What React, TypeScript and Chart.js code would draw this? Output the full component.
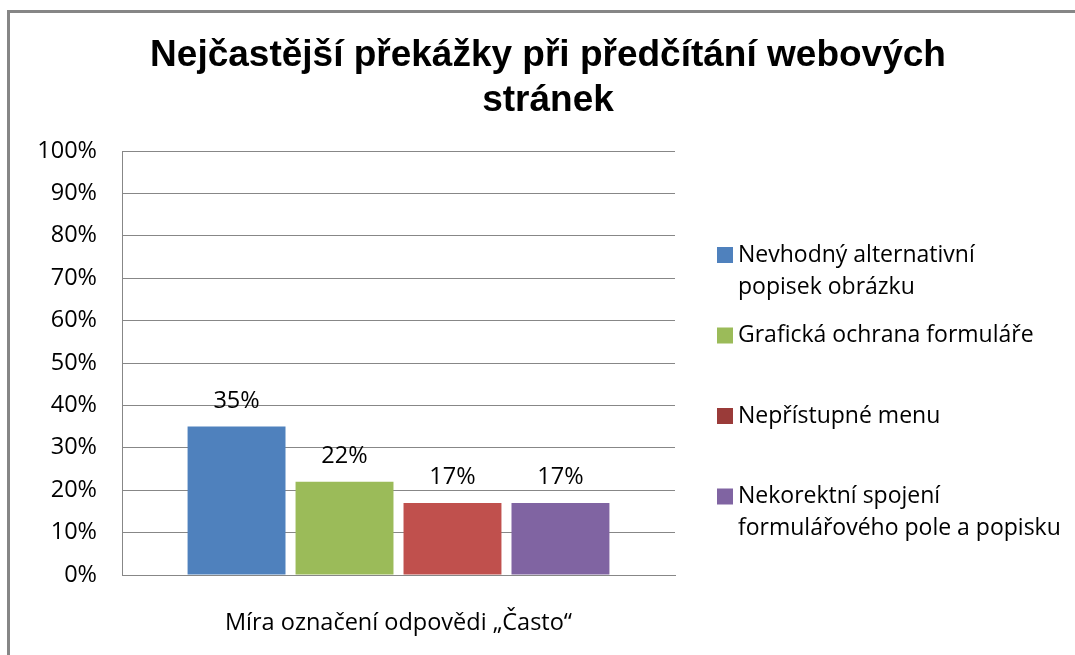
import React, { useEffect, useRef } from "react";
import { Chart, registerables } from "chart.js";

Chart.register(...registerables);

const titleLines = ["Nejčastější překážky při předčítání webových", "stránek"];
const categories = ["Míra označení odpovědi „Často“"];
const seriesNames = [
  ["Nevhodný alternativní", "popisek obrázku"],
  ["Grafická ochrana formuláře"],
  ["Nepřístupné menu"],
  ["Nekorektní spojení", "formulářového pole a popisku"],
];
const seriesValues = [35, 22, 17, 17];
const seriesColors = ["#4F81BD", "#9BBB59", "#C0504D", "#8064A2"];
const legendColors = ["#4F81BD", "#9BBB59", "#9A3B39", "#8064A2"];
const yMin = 0;
const yMax = 100;
const yStep = 10;

const FONT = "'Open Sans', 'DejaVu Sans', sans-serif";
const TEXT_SIZE = 23.5;
const LEGEND_SIZE = 23;
const GRID = "#878787";

const framePlugin = {
  id: "frame",
  beforeDraw(chart: any) {
    const ctx = chart.ctx;
    ctx.save();
    ctx.fillStyle = "#ffffff";
    ctx.fillRect(0, 0, chart.width, chart.height);
    ctx.fillStyle = "#868686";
    ctx.fillRect(7, 10, 3, chart.height - 10);
    ctx.fillRect(7, 10, chart.width - 7, 3);
    ctx.restore();
  },
};

const titlePlugin = {
  id: "customTitle",
  afterDraw(chart: any) {
    const ctx = chart.ctx;
    ctx.save();
    ctx.fillStyle = "#000";
    ctx.font = "bold 37px 'Liberation Sans', Arial, sans-serif";
    ctx.textAlign = "center";
    ctx.textBaseline = "alphabetic";
    titleLines.forEach((line, i) => {
      ctx.fillText(line, 548, 66 + i * 45);
    });
    ctx.restore();
  },
};

const valueLabelPlugin = {
  id: "valueLabels",
  afterDatasetsDraw(chart: any) {
    const ctx = chart.ctx;
    ctx.save();
    ctx.fillStyle = "#000";
    ctx.font = `${TEXT_SIZE}px ${FONT}`;
    ctx.textAlign = "center";
    ctx.textBaseline = "alphabetic";
    chart.data.datasets.forEach((ds: any, i: number) => {
      const meta = chart.getDatasetMeta(i);
      meta.data.forEach((bar: any, j: number) => {
        ctx.fillText(`${ds.data[j]}%`, bar.x, bar.y - 19);
      });
    });
    ctx.restore();
  },
};

const legendPlugin = {
  id: "sideLegend",
  afterDraw(chart: any) {
    const ctx = chart.ctx;
    const area = chart.chartArea;
    const x0 = area.right + 42;
    const y0 = 255;
    const step = 80.5;
    const lineGap = 32;
    ctx.save();
    ctx.font = `${LEGEND_SIZE}px ${FONT}`;
    ctx.textAlign = "left";
    ctx.textBaseline = "middle";
    seriesNames.forEach((lines, i) => {
      const cy = y0 + i * step;
      ctx.fillStyle = legendColors[i];
      ctx.fillRect(x0, cy - 8, 16, 16);
      ctx.fillStyle = "#000";
      lines.forEach((t, k) => ctx.fillText(t, x0 + 21, cy + k * lineGap));
    });
    ctx.restore();
  },
};

export default function App() {
  const ref = useRef<HTMLCanvasElement | null>(null);

  useEffect(() => {
    if (!ref.current) return;
    const chart = new Chart(ref.current, {
      type: "bar",
      data: {
        labels: categories,
        datasets: seriesNames.map((n, i) => ({
          label: n.join(" "),
          data: [seriesValues[i]],
          backgroundColor: seriesColors[i],
          borderWidth: 0,
          barPercentage: 0.907,
          categoryPercentage: 0.781,
        })),
      },
      options: {
        responsive: false,
        animation: false,
        layout: { padding: { top: 151, right: 400, bottom: 0, left: 0 } },
        plugins: {
          legend: { display: false },
          title: { display: false },
          tooltip: { enabled: false },
        },
        scales: {
          x: {
            grid: { display: false },
            border: { display: true, color: GRID, width: 1 },
            ticks: {
              color: "#000",
              font: { family: FONT, size: TEXT_SIZE },
              padding: 26,
            },
            afterFit(scale: any) {
              scale.height = 80;
            },
          },
          y: {
            min: yMin,
            max: yMax,
            ticks: {
              stepSize: yStep,
              color: "#000",
              font: { family: FONT, size: TEXT_SIZE },
              padding: 25,
              callback: (v: any) => `${v}%`,
            },
            grid: { color: GRID, lineWidth: 1, drawTicks: false },
            border: { display: true, color: GRID, width: 1 },
            afterFit(scale: any) {
              scale.width = 122;
            },
          },
        },
      },
      plugins: [framePlugin, valueLabelPlugin, legendPlugin, titlePlugin],
    });
    return () => chart.destroy();
  }, []);

  return (
    <div style={{ position: "fixed", left: 0, top: 0, width: 1075, height: 655, background: "#fff" }}>
      <canvas ref={ref} width={1075} height={655} style={{ display: "block", width: 1075, height: 655 }} />
    </div>
  );
}
